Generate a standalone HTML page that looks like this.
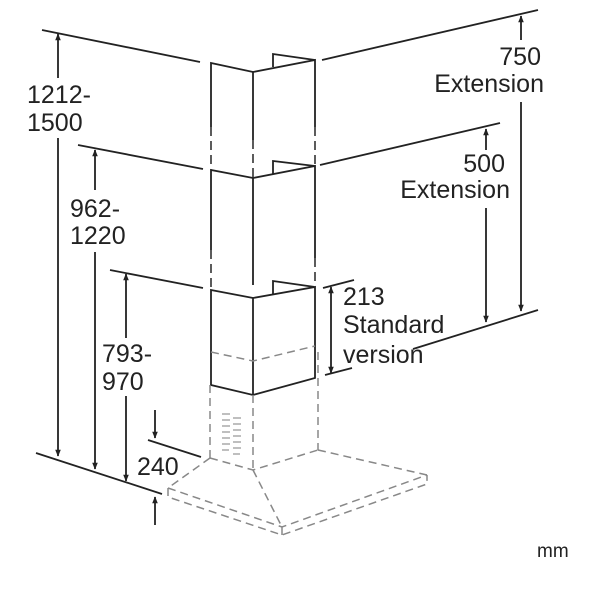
<!DOCTYPE html>
<html><head><meta charset="utf-8"><style>
html,body{margin:0;padding:0;background:#fff;}
svg{display:block;}
text{font-family:"Liberation Sans",sans-serif;fill:#222;font-size:25px;}
</style></head><body>
<svg width="600" height="600" viewBox="0 0 600 600" xmlns="http://www.w3.org/2000/svg">
<defs>
<marker id="a" viewBox="0 0 10 10" refX="9" refY="5" markerWidth="7" markerHeight="9" orient="auto-start-reverse" markerUnits="userSpaceOnUse"><path d="M0,1 L10,5 L0,9 z" fill="#222"/></marker>
</defs>
<g stroke="#222" stroke-width="1.8" fill="none">
<line x1="42" y1="30" x2="200" y2="62"/>
<line x1="78" y1="145" x2="203" y2="169"/>
<line x1="110" y1="270" x2="203" y2="288"/>
<line x1="36" y1="453" x2="162" y2="494"/>
<line x1="148" y1="440" x2="201" y2="457"/>
<line x1="322" y1="60" x2="538" y2="10"/>
<line x1="320" y1="165" x2="500" y2="123"/>
<line x1="413" y1="349" x2="538" y2="310"/>
<line x1="323" y1="288" x2="354" y2="280"/>
<line x1="325" y1="375" x2="352" y2="368"/>
<line x1="58" y1="78" x2="58" y2="34" marker-end="url(#a)"/>
<line x1="58" y1="138" x2="58" y2="456" marker-end="url(#a)"/>
<line x1="95" y1="190" x2="95" y2="150" marker-end="url(#a)"/>
<line x1="95" y1="252" x2="95" y2="469" marker-end="url(#a)"/>
<line x1="126" y1="338" x2="126" y2="274" marker-end="url(#a)"/>
<line x1="126" y1="396" x2="126" y2="481" marker-end="url(#a)"/>
<line x1="155" y1="410" x2="155" y2="438" marker-end="url(#a)"/>
<line x1="155" y1="525" x2="155" y2="497" marker-end="url(#a)"/>
<line x1="521" y1="40" x2="521" y2="16" marker-end="url(#a)"/>
<line x1="521" y1="102" x2="521" y2="311" marker-end="url(#a)"/>
<line x1="486" y1="150" x2="486" y2="129" marker-end="url(#a)"/>
<line x1="486" y1="208" x2="486" y2="322" marker-end="url(#a)"/>
<line x1="331" y1="330" x2="331" y2="287" marker-end="url(#a)"/>
<line x1="331" y1="330" x2="331" y2="373" marker-end="url(#a)"/>
<polyline points="211,127 211,63 253,72 315,60 315,127"/>
<line x1="253" y1="72" x2="253" y2="140"/>
<polyline points="273,67 273,54 315,60"/>
<polyline points="211,250 211,170 253,178 315,166 315,258"/>
<line x1="253" y1="178" x2="253" y2="285"/>
<polyline points="273,174 273,161 315,166"/>
<polygon points="211,290 253,298 315,287 315,378 253,395 211,385"/>
<line x1="253" y1="298" x2="253" y2="395"/>
<polyline points="273,294 273,281 315,287"/>
</g>
<g stroke="#333" stroke-width="1.6" fill="none" stroke-dasharray="9,5">
<line x1="211" y1="127" x2="211" y2="170"/>
<line x1="253" y1="140" x2="253" y2="178"/>
<line x1="315" y1="127" x2="315" y2="166"/>
<line x1="211" y1="250" x2="211" y2="290"/>
<line x1="315" y1="258" x2="315" y2="287"/>
</g>
<g stroke="#888" stroke-width="1.5" fill="none" stroke-dasharray="8,5">
<polyline points="211,352 253,361 315,346"/>
<line x1="210" y1="385" x2="210" y2="458"/>
<line x1="253" y1="395" x2="253" y2="470"/>
<line x1="318" y1="352" x2="318" y2="450"/>
<polyline points="210,458 253,470 318,450"/>
<line x1="210" y1="458" x2="168" y2="488"/>
<line x1="253" y1="470" x2="282" y2="527"/>
<line x1="318" y1="450" x2="427" y2="475"/>
<polyline points="168,488 282,527 427,475"/>
<polyline points="168,488 168,497 282,535 427,484 427,475"/>
<line x1="282" y1="527" x2="282" y2="535"/>
</g>
<g stroke="#999" stroke-width="1.3" fill="none">
<path d="M222,414h8M222,420h8M222,426h8M222,432h8M222,438h8M222,444h8M222,450h7"/>
<path d="M233,418h8M233,424h8M233,430h8M233,436h8M233,442h8M233,448h8M233,454h7"/>
</g>
<text x="27" y="103">1212-</text>
<text x="27" y="131">1500</text>
<text x="70" y="217">962-</text>
<text x="70" y="244">1220</text>
<text x="102" y="362">793-</text>
<text x="102" y="390">970</text>
<text x="137" y="475">240</text>
<text x="541" y="65" text-anchor="end">750</text>
<text x="544" y="92" text-anchor="end">Extension</text>
<text x="505" y="172" text-anchor="end">500</text>
<text x="510" y="198" text-anchor="end">Extension</text>
<text x="343" y="305">213</text>
<text x="343" y="333">Standard</text>
<text x="343" y="363">version</text>
<text x="537" y="557" style="font-size:19px">mm</text>
</svg>
</body></html>
